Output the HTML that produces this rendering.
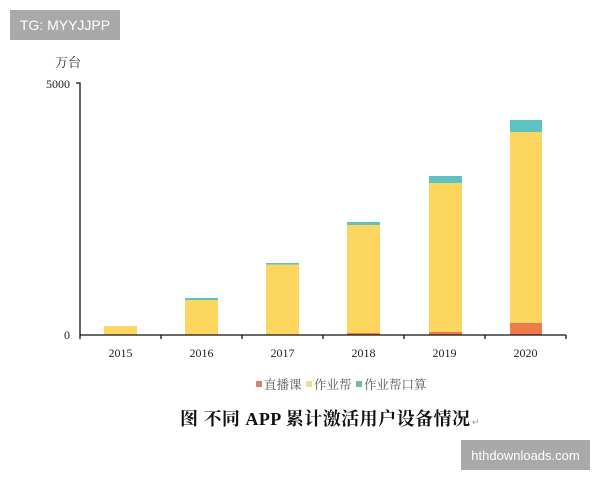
<!DOCTYPE html>
<html><head><meta charset="utf-8"><style>
body{margin:0;width:600px;height:480px;background:#fff;position:relative;overflow:hidden;font-family:"Liberation Serif","Noto Serif CJK SC",serif}
.wm{position:absolute;background:#a9a9a9;color:#fff;font-family:"Liberation Sans",sans-serif;display:flex;align-items:center;justify-content:center}
</style></head><body>
<div class="wm" style="left:10px;top:10px;width:110px;height:30px;font-size:14px">TG: MYYJJPP</div>
<div class="wm" style="left:461px;top:440px;width:129px;height:30px;font-size:13px">hthdownloads.com</div>
<svg width="600" height="480" style="position:absolute;left:0;top:0" font-family="Liberation Serif, Noto Serif CJK SC, serif">
<text x="68" y="67" font-size="13" text-anchor="middle" fill="#333">万台</text>
<text x="70" y="88" font-size="12" text-anchor="end" fill="#222">5000</text>
<text x="70" y="339" font-size="12" text-anchor="end" fill="#222">0</text>
<g>
<rect x="104" y="326" width="33" height="9" fill="#fcd65e"/>
<rect x="185" y="300" width="33" height="35" fill="#fcd65e"/>
<rect x="185" y="298" width="33" height="2" fill="#5cc3c0"/>
<rect x="266" y="264" width="33" height="71" fill="#fcd65e"/>
<rect x="266" y="263" width="33" height="1.5" fill="#5cc3c0"/>
<rect x="347" y="225" width="33" height="110" fill="#fcd65e"/>
<rect x="347" y="222" width="33" height="3" fill="#5cc3c0"/>
<rect x="347" y="333" width="33" height="2" fill="#ef7a4a"/>
<rect x="429" y="183" width="33" height="152" fill="#fcd65e"/>
<rect x="429" y="176" width="33" height="7" fill="#5cc3c0"/>
<rect x="429" y="332" width="33" height="3" fill="#ef7a4a"/>
<rect x="510" y="132" width="32" height="203" fill="#fcd65e"/>
<rect x="510" y="120" width="32" height="12" fill="#5cc3c0"/>
<rect x="510" y="323" width="32" height="12" fill="#ef7a4a"/>
</g>
<path d="M76 83H80V335M80 335H566" stroke="#111" stroke-width="1.3" fill="none"/>
<path d="M80 335v4M161 335v4M242 335v4M323 335v4M404 335v4M485 335v4M566 335v4" stroke="#111" stroke-width="1.3"/>
<g font-size="12" text-anchor="middle" fill="#222">
<text x="120.5" y="357">2015</text><text x="201.5" y="357">2016</text><text x="282.5" y="357">2017</text>
<text x="363.5" y="357">2018</text><text x="444.5" y="357">2019</text><text x="525.5" y="357">2020</text>
</g>
<g font-size="12.5" fill="#555">
<rect x="256" y="381" width="6" height="6" fill="#d9826a"/><text x="264" y="389">直播课</text>
<rect x="306" y="381" width="6" height="6" fill="#f0dc8a"/><text x="314" y="389">作业帮</text>
<rect x="356" y="381" width="6" height="6" fill="#6fb9b5"/><text x="364" y="389">作业帮口算</text>
</g>
<text x="180" y="425" font-size="18" font-weight="bold" fill="#111" textLength="290" lengthAdjust="spacing">图 不同 APP 累计激活用户设备情况</text>
<text x="472" y="425" font-size="9" fill="#999">↵</text>
</svg>
</body></html>
